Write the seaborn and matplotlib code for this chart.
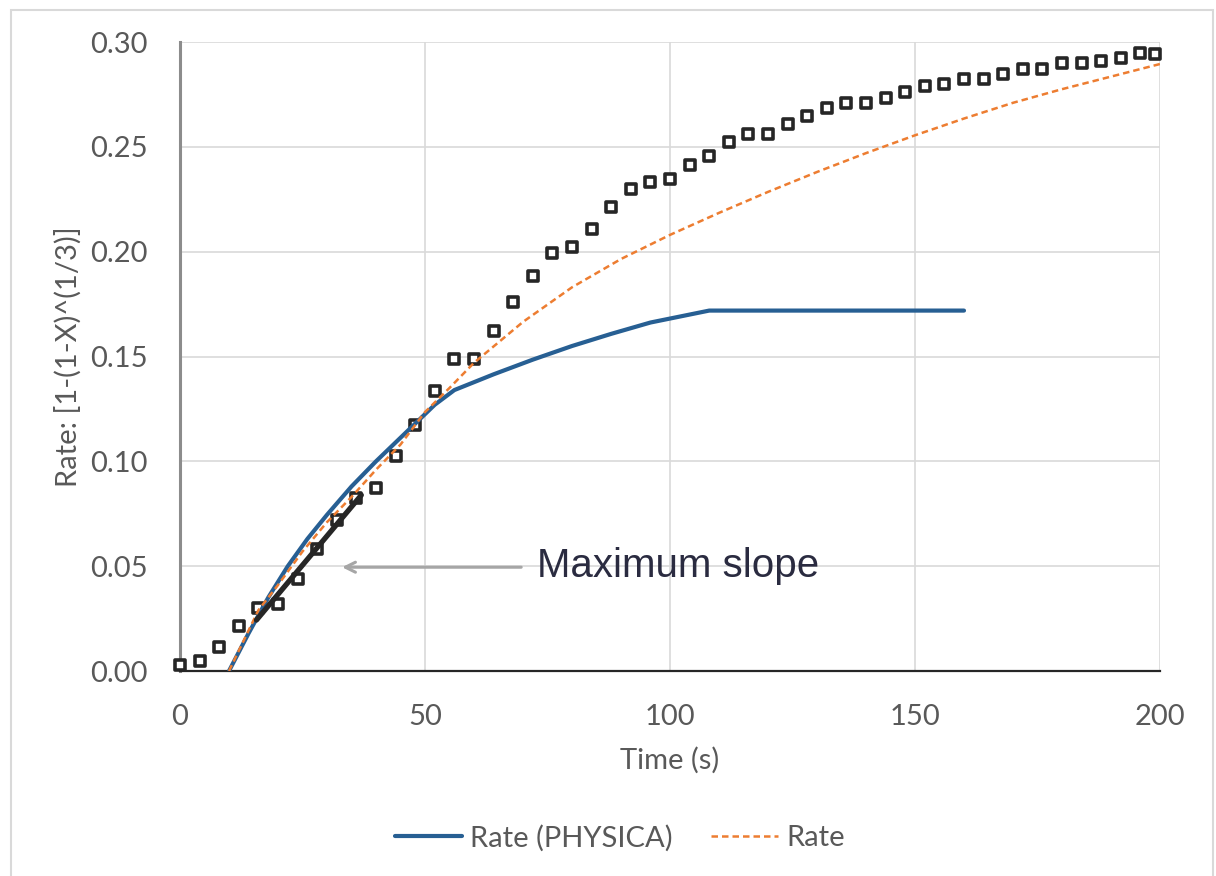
import matplotlib
matplotlib.use("Agg")
import matplotlib.pyplot as plt
from matplotlib.patches import Rectangle
from matplotlib.lines import Line2D
from matplotlib.ticker import FormatStrFormatter
import pandas as pd
import seaborn as sns

# Measured conversion rate, 1-(1-X)^(1/3), sampled every ~4 s
time_s = [0, 4, 8, 12, 16, 20, 24, 28, 32, 36, 40, 44, 48, 52, 56, 60, 64, 68,
          72, 76, 80, 84, 88, 92, 96, 100, 104, 108, 112, 116, 120, 124, 128,
          132, 136, 140, 144, 148, 152, 156, 160, 164, 168, 172, 176, 180, 184,
          188, 192, 196, 199]
rate_meas = [0.003, 0.0048, 0.0113, 0.0215, 0.030, 0.032, 0.0438, 0.058, 0.072,
             0.0825, 0.0874, 0.1025, 0.1173, 0.1337, 0.1487, 0.1487, 0.1623,
             0.1761, 0.1884, 0.1995, 0.2021, 0.2108, 0.2212, 0.2297, 0.2334,
             0.2345, 0.2412, 0.2456, 0.2525, 0.256, 0.256, 0.2609, 0.2647,
             0.2684, 0.271, 0.271, 0.2734, 0.2763, 0.2788, 0.280, 0.2822,
             0.2822, 0.2847, 0.287, 0.287, 0.2898, 0.2898, 0.2909, 0.2922,
             0.2946, 0.2943]

# PHYSICA simulation
phys_time = [10, 14, 18, 22, 26, 30, 35, 40, 44, 48, 52, 56, 64, 72, 80, 88,
             96, 108, 160]
phys_rate = [0.0, 0.018, 0.035, 0.050, 0.063, 0.0745, 0.088, 0.100, 0.109,
             0.118, 0.127, 0.134, 0.1415, 0.1485, 0.155, 0.1608, 0.1662,
             0.1719, 0.1719]

# Fitted rate model
model_time = [10, 16, 20, 25, 30, 35, 40, 45, 50, 55, 60, 70, 80, 90, 100, 110,
              120, 130, 140, 150, 160, 170, 180, 190, 200]
model_rate = [0.0, 0.029, 0.041, 0.057, 0.071, 0.083, 0.096, 0.108, 0.1235,
              0.135, 0.147, 0.1665, 0.183, 0.1965, 0.208, 0.2185, 0.2285,
              0.238, 0.247, 0.2555, 0.2635, 0.271, 0.2775, 0.2835, 0.2895]

# Tangent at the steepest part of the measured curve
slope_time = [15.6, 37.0]
slope_rate = [0.0243, 0.0839]

x_ticks = [0, 50, 100, 150, 200]
y_ticks = [0.00, 0.05, 0.10, 0.15, 0.20, 0.25, 0.30]

BLUE = "#275f93"
ORANGE = "#ed7d31"
GRID = "#d9d9d9"
TEXT = "#595959"

sns.set_theme(style="white")
plt.rcParams["font.family"] = ["Lato", "DejaVu Sans"]

W, H = 1216, 876
fig = plt.figure(figsize=(W / 100, H / 100), dpi=100)
ax = fig.add_axes([180 / W, (H - 671) / H, 980 / W, 629 / H])

meas = pd.DataFrame({"t": time_s, "r": rate_meas})
phys = pd.DataFrame({"t": phys_time, "r": phys_rate})
model = pd.DataFrame({"t": model_time, "r": model_rate})
slope = pd.DataFrame({"t": slope_time, "r": slope_rate})

sns.scatterplot(data=meas, x="t", y="r", ax=ax, marker="s", s=54,
                facecolor="white", edgecolor="#262626", linewidth=2.6,
                zorder=3, legend=False, clip_on=False)
sns.lineplot(data=phys, x="t", y="r", ax=ax, color=BLUE, lw=3.0,
             sort=False, estimator=None, zorder=4, legend=False,
             solid_capstyle="round")
sns.lineplot(data=model, x="t", y="r", ax=ax, color=ORANGE, lw=1.8,
             sort=False, estimator=None, zorder=5, legend=False,
             dashes=False)
ax.lines[-1].set_dashes([2.6, 1.6])
sns.lineplot(data=slope, x="t", y="r", ax=ax, color="#262626", lw=3.8,
             sort=False, estimator=None, zorder=6, legend=False)

ax.annotate("", xy=(32.5, 0.0495), xytext=(70.2, 0.0495),
            arrowprops=dict(arrowstyle="->", color="#a6a6a6", lw=2.2,
                            mutation_scale=18))
ax.text(72.9, 0.0448, "Maximum slope", fontsize=29,
        family=["Liberation Sans", "DejaVu Sans"], color="#2a2b40",
        va="baseline", ha="left", zorder=7)

ax.set_xlim(0, 200)
ax.set_ylim(0, 0.30)
ax.set_xticks(x_ticks)
ax.set_yticks(y_ticks)
ax.yaxis.set_major_formatter(FormatStrFormatter("%.2f"))
ax.grid(True, color=GRID, lw=1.2)
ax.set_axisbelow(True)
ax.tick_params(length=0, pad=23.5, labelsize=21, labelcolor=TEXT)

for side in ("top", "right"):
    ax.spines[side].set_visible(False)
ax.spines["left"].set_color("#8c8c8c")
ax.spines["left"].set_linewidth(2.2)
ax.spines["bottom"].set_color("#262626")
ax.spines["bottom"].set_linewidth(1.6)
ax.spines["left"].set_zorder(2.5)

ax.set_xlabel("Time (s)", fontsize=21, color=TEXT)
ax.set_ylabel("Rate: [1-(1-X)^(1/3)]", fontsize=21, color=TEXT)
ax.xaxis.set_label_coords(0.5, -0.1415)
ax.xaxis.label.set_va("center")
ax.yaxis.set_label_coords(-0.1143, 0.5)
ax.yaxis.label.set_va("center")

handles = [Line2D([], [], color=BLUE, lw=3.0, solid_capstyle="round"),
           Line2D([], [], color=ORANGE, lw=1.8, dashes=[2.6, 1.6])]
fig.legend(handles, ["Rate (PHYSICA)", "Rate"], loc="center",
           bbox_to_anchor=(620 / W, 1 - 838 / H), ncol=2, frameon=False,
           fontsize=21, handlelength=2.3, handletextpad=0.3,
           columnspacing=1.3, labelcolor=TEXT)

fig.patches.append(Rectangle((11 / W, -0.02), (1213 - 11) / W,
                             (H - 10) / H + 0.02, transform=fig.transFigure,
                             fill=False, edgecolor=GRID, lw=1.5))

fig.savefig("out.png", dpi=100, facecolor="white")
